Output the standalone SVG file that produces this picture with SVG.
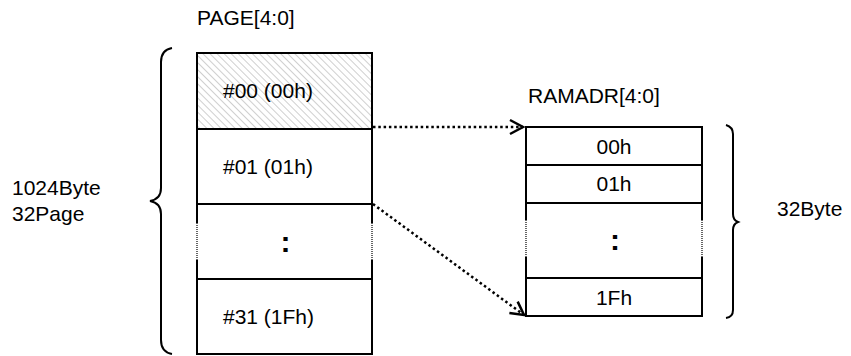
<svg xmlns="http://www.w3.org/2000/svg" width="851" height="356" viewBox="0 0 851 356">
  <style>
    .t { font-family: "Liberation Sans", Arial, sans-serif; font-size: 21px; fill: #000; }
    .mid { text-anchor: middle; }
    .colon { font-family: "Liberation Sans", Arial, sans-serif; font-size: 30px; font-weight: bold; text-anchor: middle; fill: #000; }
    .ln { stroke: #000; stroke-width: 2; fill: none; }
    .dot { stroke: #000; stroke-width: 1.2; stroke-dasharray: 1 1; fill: none; }
    .brace { stroke: #000; stroke-width: 2; fill: none; }
    .conn { stroke: #000; stroke-width: 2.5; stroke-dasharray: 2.5 2.8; fill: none; }
  </style>
  <defs>
    <pattern id="hatch" patternUnits="userSpaceOnUse" width="5" height="5" patternTransform="rotate(-45)">
      <line x1="0" y1="0" x2="0" y2="5" stroke="#b4b4b4" stroke-width="1.3"/>
    </pattern>
    <marker id="arrow" markerUnits="userSpaceOnUse" markerWidth="20" markerHeight="20" refX="15" refY="9" orient="auto">
      <path d="M2,2 L15,9 L2,16" fill="none" stroke="#000" stroke-width="2.5"/>
    </marker>
  </defs>

  <rect width="851" height="356" fill="#fff"/>

  <!-- labels -->
  <g id="label-page">
    <text class="t" x="197" y="25">PAGE[4:0]</text>
  </g>
  <g id="label-ramadr">
    <text class="t" x="528" y="103">RAMADR[4:0]</text>
  </g>
  <g id="label-1024">
    <text class="t" x="12" y="195">1024Byte</text>
    <text class="t" x="12" y="221">32Page</text>
  </g>
  <g id="label-32byte">
    <text class="t" x="777" y="216">32Byte</text>
  </g>

  <!-- braces -->
  <g id="brace-left">
    <path class="brace" d="M172,48 Q161,50 161,62 L161,188 Q161,199 150,201 Q161,203 161,214 L161,340 Q161,352 172,354"/>
  </g>
  <g id="brace-right">
    <path class="brace" d="M726,125 Q733,127 733,134 L733,214 Q733,220 738,222 Q733,224 733,230 L733,310 Q733,317 726,318"/>
  </g>

  <!-- PAGE table -->
  <g id="page00">
    <rect x="197" y="53" width="175" height="76" fill="url(#hatch)"/>
    <path class="ln" d="M197,129 L197,53 L372,53 L372,129"/>
    <line class="ln" x1="197" y1="129" x2="372" y2="129"/>
    <text class="t" x="223" y="98">#00 (00h)</text>
  </g>
  <g id="page01">
    <path class="ln" d="M197,129 L197,204 M372,129 L372,204"/>
    <line class="ln" x1="197" y1="204" x2="372" y2="204"/>
    <text class="t" x="223" y="174">#01 (01h)</text>
  </g>
  <g id="page-gap">
    <path class="ln" d="M197,204 L197,223 M372,204 L372,223 M197,260 L197,279 M372,260 L372,279"/>
    <path class="dot" d="M197,223 L197,260 M372,223 L372,260"/>
    <text class="colon" x="285.5" y="252">:</text>
  </g>
  <g id="page31">
    <line class="ln" x1="197" y1="279" x2="372" y2="279"/>
    <path class="ln" d="M197,279 L197,354 L372,354 L372,279"/>
    <text class="t" x="223" y="324">#31 (1Fh)</text>
  </g>

  <!-- RAM table -->
  <g id="ram00">
    <path class="ln" d="M526,165 L526,127 L702,127 L702,165"/>
    <line class="ln" x1="526" y1="165" x2="702" y2="165"/>
    <text class="t mid" x="614" y="154">00h</text>
  </g>
  <g id="ram01">
    <path class="ln" d="M526,165 L526,203 M702,165 L702,203"/>
    <line class="ln" x1="526" y1="203" x2="702" y2="203"/>
    <text class="t mid" x="614" y="191">01h</text>
  </g>
  <g id="ram-gap">
    <path class="ln" d="M526,203 L526,220 M702,203 L702,220 M526,257 L526,278 M702,257 L702,278"/>
    <path class="dot" d="M526,220 L526,257 M702,220 L702,257"/>
    <text class="colon" x="615" y="250">:</text>
  </g>
  <g id="ram1f">
    <line class="ln" x1="526" y1="278" x2="702" y2="278"/>
    <path class="ln" d="M526,278 L526,316 L702,316 L702,278"/>
    <text class="t mid" x="614" y="305">1Fh</text>
  </g>

  <!-- connectors -->
  <g id="connectors">
    <line class="conn" x1="373" y1="127" x2="523" y2="127" marker-end="url(#arrow)"/>
    <line class="conn" x1="373" y1="204" x2="524" y2="315" marker-end="url(#arrow)"/>
  </g>
</svg>
